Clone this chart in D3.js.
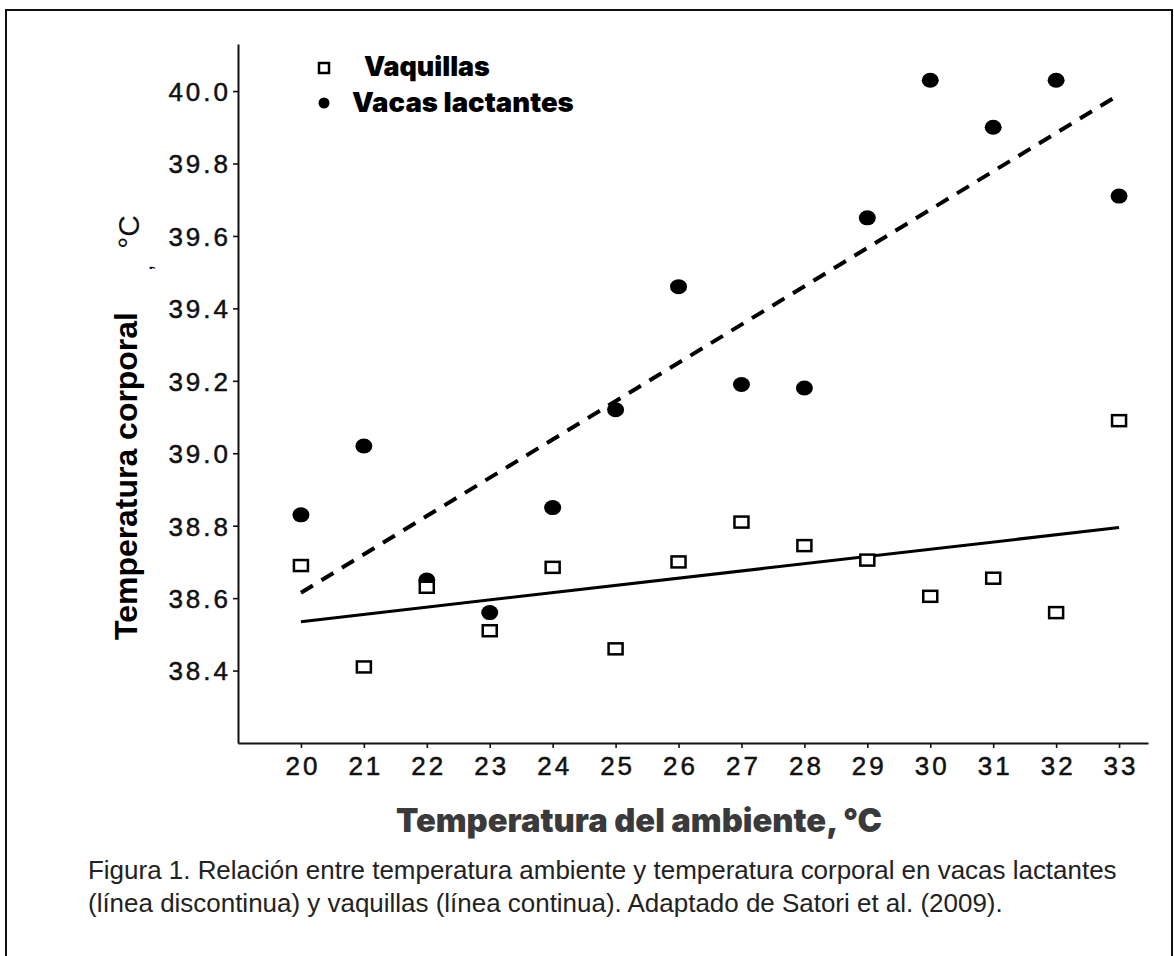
<!DOCTYPE html>
<html>
<head>
<meta charset="utf-8">
<script src="https://cdn.jsdelivr.net/npm/d3@7"></script>
<style>
  html, body { margin: 0; padding: 0; background: #fff; }
  svg { display: block; }
</style>
</head>
<body>
<svg id="chart" width="1174" height="956"></svg>
<script>
// ---- data ----
const ambientTemps = [20, 21, 22, 23, 24, 25, 26, 27, 28, 29, 30, 31, 32, 33];
const vacasLactantes = [38.83, 39.02, 38.65, 38.56, 38.85, 39.12, 39.46, 39.19, 39.18, 39.65, 40.03, 39.90, 40.03, 39.71];
const vaquillas = [38.69, 38.41, 38.63, 38.51, 38.685, 38.46, 38.70, 38.81, 38.745, 38.705, 38.605, 38.655, 38.56, 39.09];
const vacasTrend = [[20, 38.615], [33, 39.99]];
const vaquillasTrend = [[20, 38.535], [33, 38.795]];
const xTickLabels = [20, 21, 22, 23, 24, 25, 26, 27, 28, 29, 30, 31, 32, 33];
const yTickLabels = [38.4, 38.6, 38.8, 39.0, 39.2, 39.4, 39.6, 39.8, 40.0];
const legendLabels = ["Vaquillas", "Vacas lactantes"];
const yTitle = "Temperatura corporal";
const xTitle = "Temperatura del ambiente, °C";
const captionLines = [
  "Figura 1. Relación entre temperatura ambiente y temperatura corporal en vacas lactantes",
  "(línea discontinua) y vaquillas (línea continua). Adaptado de Satori et al. (2009)."
];

const svg = d3.select("#chart");

// outer frame
svg.append("rect")
  .attr("x", 6).attr("y", 10).attr("width", 1166).attr("height", 950)
  .attr("fill", "none").attr("stroke", "#111").attr("stroke-width", 2);

const x = d3.scaleLinear().domain([19, 33.46]).range([238, 1148]);
const y = d3.scaleLinear().domain([38.2, 40.13]).range([743, 44]);

const tickFont = "'Liberation Sans', Arial, sans-serif";
const heavyFont = "Inter, 'DejaVu Sans', sans-serif";

// x axis
const gx = svg.append("g")
  .attr("transform", `translate(0,${y(38.2)})`)
  .call(d3.axisBottom(x).tickValues(xTickLabels).tickSize(5).tickSizeOuter(0).tickPadding(9).tickFormat(d3.format("d")));
// y axis
const gy = svg.append("g")
  .attr("transform", `translate(${x(19)},0)`)
  .call(d3.axisLeft(y).tickValues(yTickLabels).tickSize(5).tickSizeOuter(0).tickPadding(2).tickFormat(d3.format(".1f")));

[gx, gy].forEach(g => {
  g.select(".domain").attr("stroke", "#111").attr("stroke-width", 2);
  g.selectAll(".tick line").attr("stroke", "#111").attr("stroke-width", 1.6);
  g.selectAll(".tick text")
    .attr("fill", "#111")
    .attr("stroke", "#111").attr("stroke-width", 0.5)
    .style("font-family", tickFont)
    .style("font-size", "26px")
    .style("letter-spacing", "3px");
});
gx.selectAll(".tick text").attr("dx", 1.5);
gy.selectAll(".tick text").attr("dy", "0.36em");

// trend lines
const line = d3.line().x(d => x(d[0])).y(d => y(d[1]));
svg.append("path").datum(vacasTrend)
  .attr("d", line).attr("fill", "none").attr("stroke", "#000")
  .attr("stroke-width", 4).attr("stroke-dasharray", "14,10");
svg.append("path").datum(vaquillasTrend)
  .attr("d", line).attr("fill", "none").attr("stroke", "#000")
  .attr("stroke-width", 3);

// vacas lactantes: filled circles
svg.append("g").selectAll("ellipse")
  .data(ambientTemps.map((t, i) => [t, vacasLactantes[i]]))
  .join("ellipse")
  .attr("cx", d => x(d[0])).attr("cy", d => y(d[1]))
  .attr("rx", 8.5).attr("ry", 7.5).attr("fill", "#000");

// vaquillas: open squares
svg.append("g").selectAll("rect")
  .data(ambientTemps.map((t, i) => [t, vaquillas[i]]))
  .join("rect")
  .attr("x", d => x(d[0]) - 7).attr("y", d => y(d[1]) - 5.5)
  .attr("width", 14).attr("height", 11)
  .attr("fill", "#fff").attr("stroke", "#000").attr("stroke-width", 2.5);

// legend
svg.append("rect").attr("x", 319).attr("y", 63).attr("width", 10).attr("height", 10)
  .attr("fill", "#fff").attr("stroke", "#000").attr("stroke-width", 2.5);
svg.append("circle").attr("cx", 324).attr("cy", 103).attr("r", 5.5).attr("fill", "#000");

function fitText(sel, width) {
  const node = sel.node();
  const base = parseFloat(sel.style("font-size"));
  const w = node.getComputedTextLength();
  const size = base * width / w;
  sel.style("font-size", size + "px");
  return size;
}

const leg1 = svg.append("text").attr("x", 364).attr("y", 76)
  .style("font-family", heavyFont).style("font-weight", "900").style("font-size", "20px")
  .attr("fill", "#000").text(legendLabels[0]);
fitText(leg1, 126);
const leg2 = svg.append("text").attr("x", 352).attr("y", 112)
  .style("font-family", heavyFont).style("font-weight", "900").style("font-size", "20px")
  .attr("fill", "#000").text(legendLabels[1]);
fitText(leg2, 222);

// y title
const yt = svg.append("text")
  .attr("transform", "translate(137,476) rotate(-90)")
  .attr("text-anchor", "middle")
  .style("font-family", tickFont).style("font-weight", "bold").style("font-size", "30px")
  .attr("fill", "#000").text(yTitle);
fitText(yt, 328);
svg.append("text")
  .attr("transform", "translate(139,232) rotate(-90)")
  .attr("text-anchor", "middle")
  .style("font-family", tickFont).style("font-size", "30px")
  .attr("fill", "#111").text("°C");
svg.append("text")
  .attr("transform", "translate(152,268) rotate(-90)")
  .attr("text-anchor", "middle")
  .style("font-family", tickFont).style("font-size", "22px")
  .attr("fill", "#111").text(",");

// x title
const xt = svg.append("text").attr("x", 396).attr("y", 832)
  .style("font-family", heavyFont).style("font-weight", "900").style("font-size", "26px")
  .attr("fill", "#3a3a3a").text(xTitle);
fitText(xt, 486);

// caption
let capSize = 21;
captionLines.forEach((t, i) => {
  const c = svg.append("text").attr("x", 88).attr("y", 879 + i * 33)
    .style("font-family", tickFont).style("font-size", capSize + "px")
    .attr("fill", "#222").text(t);
  if (i === 0) capSize = fitText(c, 1029);
});
</script>
</body>
</html>
